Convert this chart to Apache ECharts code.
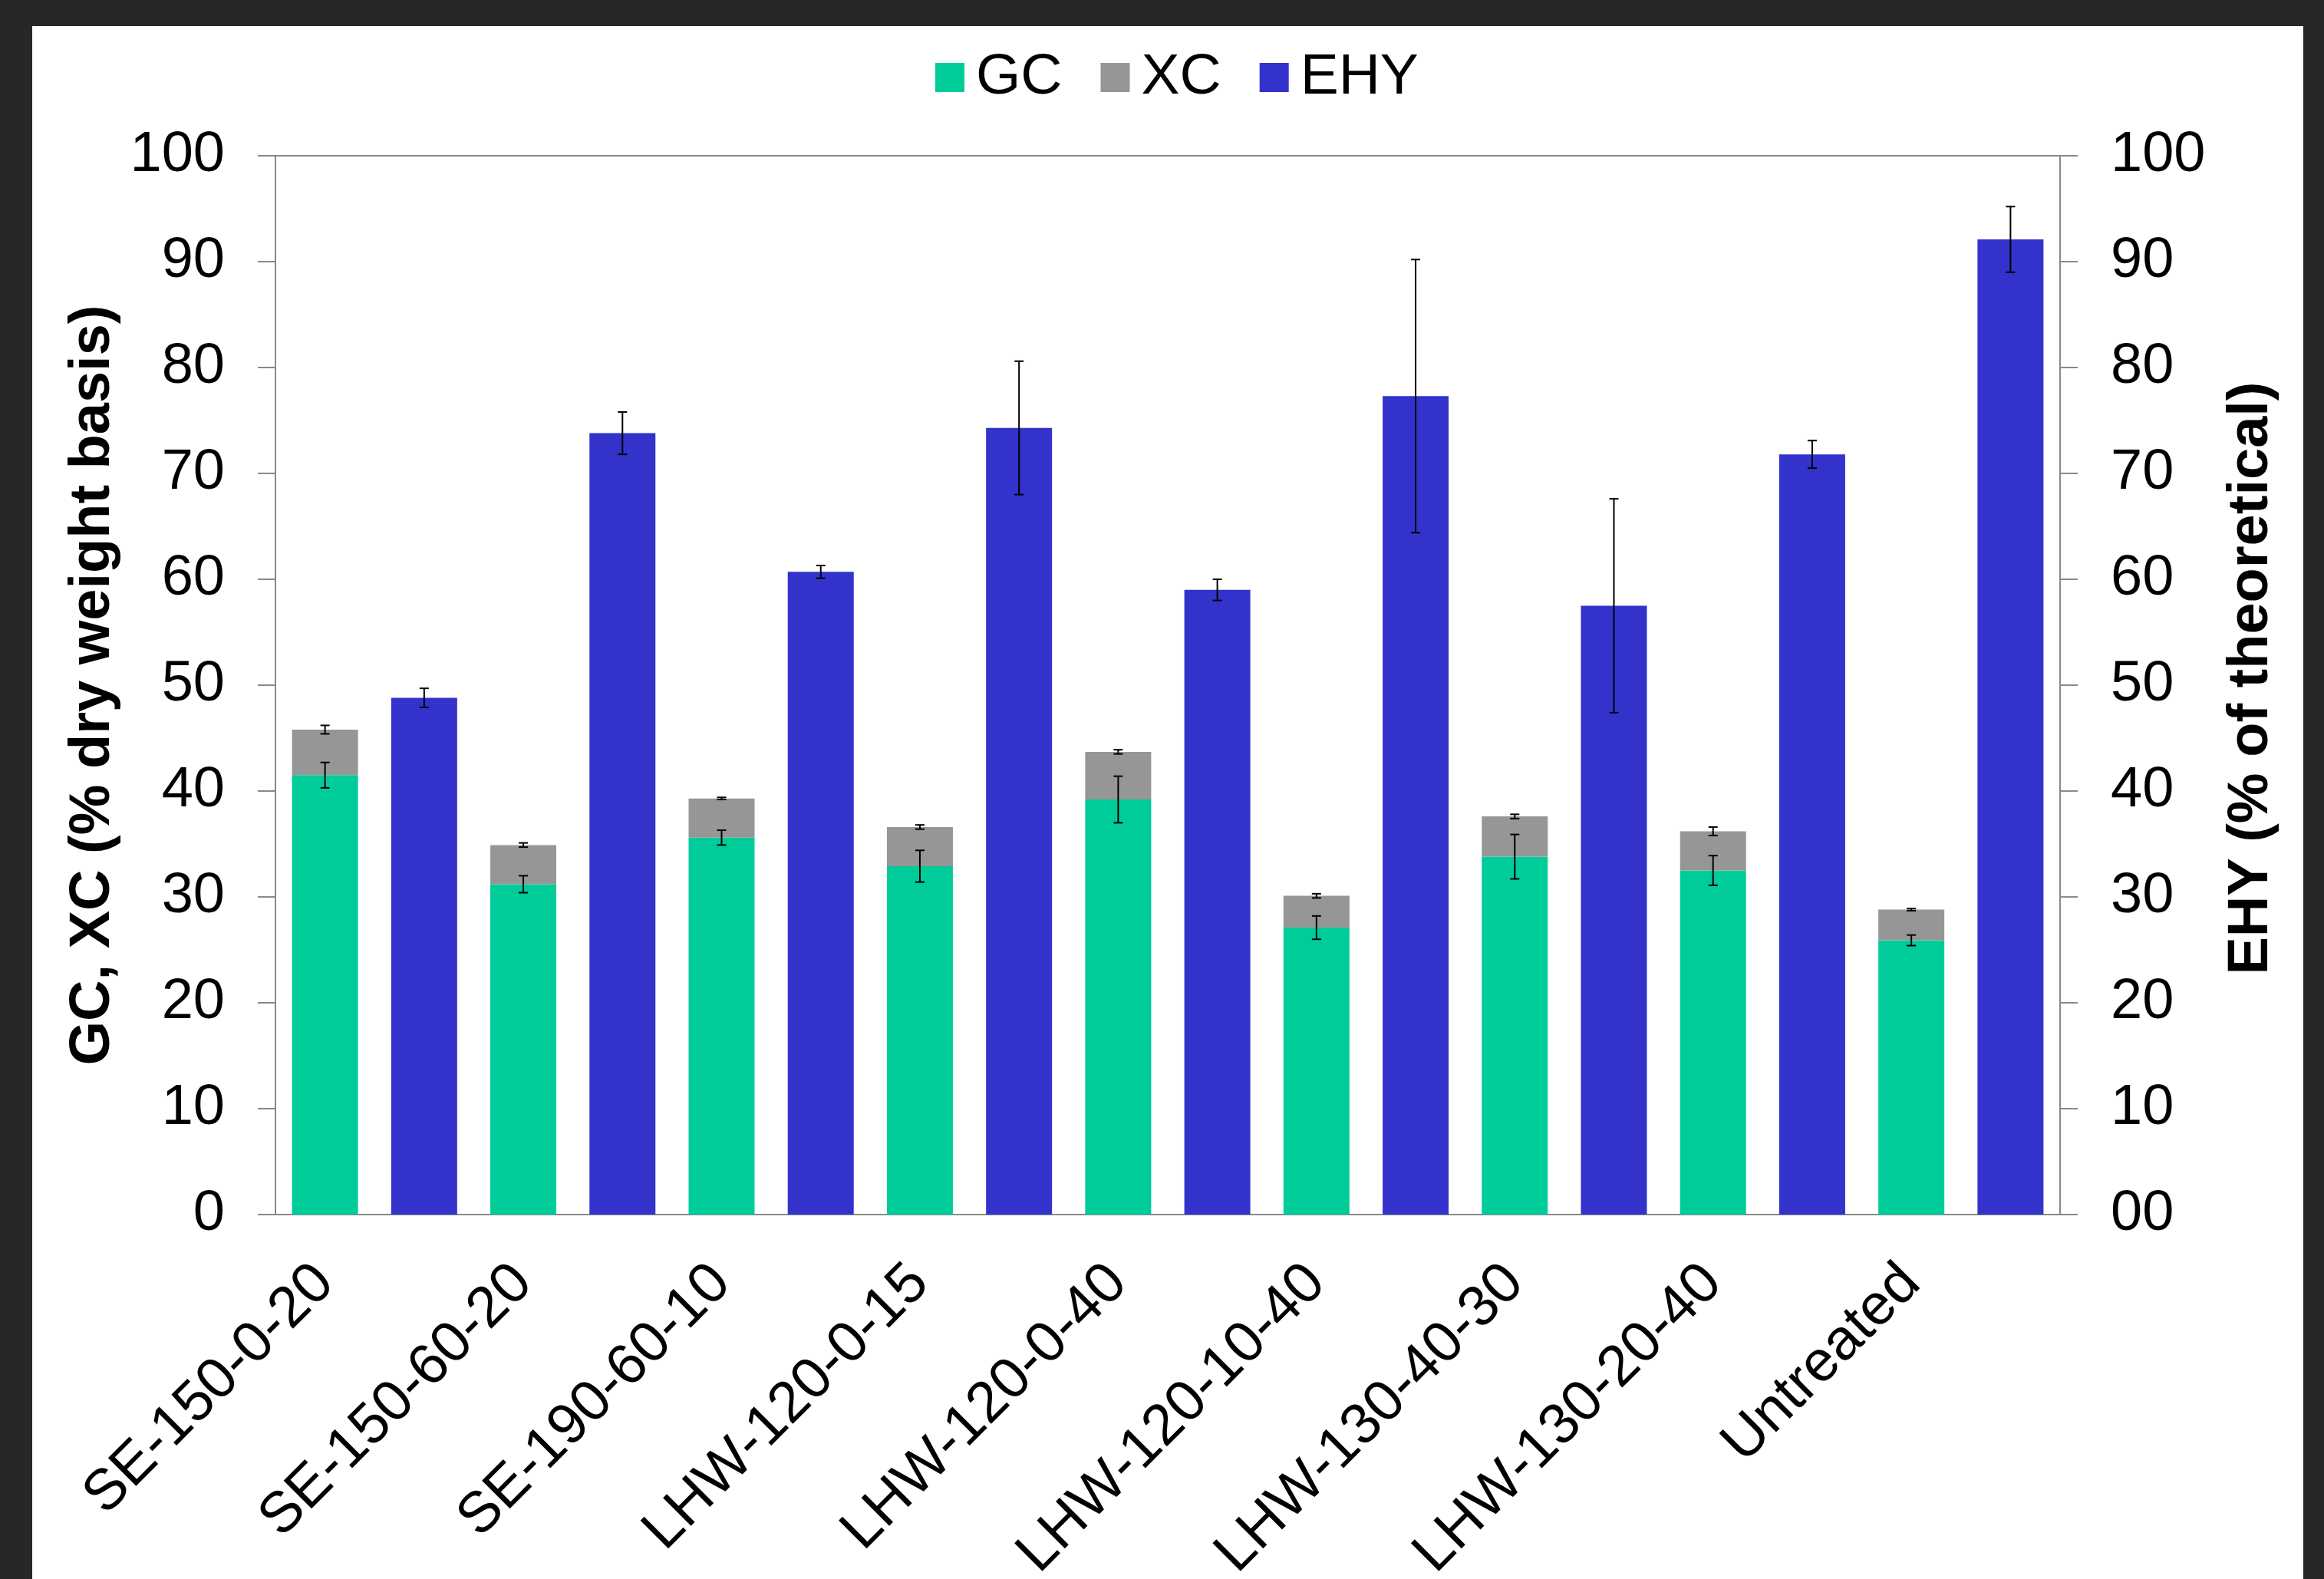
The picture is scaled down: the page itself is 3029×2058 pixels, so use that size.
<!DOCTYPE html>
<html>
<head>
<meta charset="utf-8">
<script src="https://cdn.jsdelivr.net/npm/echarts@6/dist/echarts.min.js"></script>
<style>
  html, body { margin: 0; padding: 0; background: #272727; }
  #paper { position: absolute; left: 42px; top: 34px; width: 2960px; height: 2024px; background: #fff; }
  #chart { position: absolute; left: 0; top: 0; width: 3029px; height: 2058px; }
</style>
</head>
<body>
<div id="paper"></div>
<div id="chart"></div>
<script>
// pretreatment conditions
var categories = ['SE-150-0-20', 'SE-150-60-20', 'SE-190-60-10', 'LHW-120-0-15', 'LHW-120-0-40',
                  'LHW-120-10-40', 'LHW-130-40-30', 'LHW-130-20-40', 'Untreated'];
var gc     = [41.5, 31.2, 35.6, 32.9, 39.2, 27.1, 33.8, 32.5, 25.9];   // GC
var xc     = [4.3, 3.7, 3.7, 3.7, 4.5, 3.0, 3.8, 3.7, 2.9];            // XC
var ehy    = [48.8, 73.8, 60.7, 74.3, 59.0, 77.3, 57.5, 71.8, 92.1];   // EHY
var gcErr  = [1.2, 0.8, 0.7, 1.5, 2.2, 1.1, 2.1, 1.4, 0.5];
var xcErr  = [0.4, 0.2, 0.1, 0.2, 0.2, 0.2, 0.2, 0.4, 0.1];
var ehyErr = [0.9, 2.0, 0.6, 6.3, 1.0, 12.9, 10.1, 1.3, 3.1];
var leftTicks  = ['0', '10', '20', '30', '40', '50', '60', '70', '80', '90', '100'];
var rightTicks = ['00', '10', '20', '30', '40', '50', '60', '70', '80', '90', '100'];

var font = '"Liberation Sans", Arial, sans-serif';
var axisGray = '#898989';

// each condition takes two slots: stacked GC/XC then EHY
var slots = [], gcData = [], xcData = [], ehyData = [];
var gcBars = [], xcBars = [], ehyBars = [];
for (var i = 0; i < categories.length; i++) {
  slots.push(categories[i], '');
  gcData.push(gc[i], '-');
  xcData.push(xc[i], '-');
  ehyData.push('-', ehy[i]);
  gcBars.push([2 * i, gc[i] - gcErr[i], gc[i] + gcErr[i]]);
  xcBars.push([2 * i, gc[i] + xc[i] - xcErr[i], gc[i] + xc[i] + xcErr[i]]);
  ehyBars.push([2 * i + 1, ehy[i] - ehyErr[i], ehy[i] + ehyErr[i]]);
}

function errorBar(params, api) {
  var x = api.value(0);
  var hi = api.coord([x, api.value(2)]);
  var lo = api.coord([x, api.value(1)]);
  var w = 6;
  var style = { stroke: '#000', lineWidth: 2 };
  return {
    type: 'group',
    children: [
      { type: 'line', shape: { x1: hi[0], y1: hi[1], x2: lo[0], y2: lo[1] }, style: style },
      { type: 'line', shape: { x1: hi[0] - w, y1: hi[1], x2: hi[0] + w, y2: hi[1] }, style: style },
      { type: 'line', shape: { x1: lo[0] - w, y1: lo[1], x2: lo[0] + w, y2: lo[1] }, style: style }
    ]
  };
}

function valueAxis(ticks, pos, name, gap, pad) {
  return {
    type: 'value',
    position: pos,
    min: 0, max: 100, interval: 10,
    name: name,
    nameLocation: 'middle',
    nameRotate: 90,
    nameGap: gap,
    nameTextStyle: { fontFamily: font, fontSize: 74, fontWeight: 'bold', color: '#000', padding: pad },
    axisLine: { show: true, lineStyle: { color: axisGray, width: 2 } },
    axisTick: { show: true, length: 23, lineStyle: { color: axisGray, width: 2 } },
    splitLine: { show: false },
    axisLabel: {
      fontFamily: font, fontSize: 74, color: '#000', margin: 66,
      formatter: function (v) { return ticks[Math.round(v / 10)]; }
    }
  };
}

var chart = echarts.init(document.getElementById('chart'));
chart.setOption({
  animation: false,
  backgroundColor: 'transparent',
  grid: {
    left: 359, right: 344, top: 203, bottom: 475,
    outerBoundsMode: 'none',
    show: true, borderColor: axisGray, borderWidth: 2
  },
  legend: {
    left: 1214, top: 58,
    itemWidth: 38, itemHeight: 38, itemGap: 50,
    icon: 'rect',
    data: ['GC', 'XC', 'EHY'],
    textStyle: { fontFamily: font, fontSize: 75, color: '#000', lineHeight: 76, padding: [0, 0, 0, 10] }
  },
  xAxis: {
    type: 'category',
    data: slots,
    axisLine: { lineStyle: { color: axisGray, width: 2 } },
    axisTick: { length: 22, interval: 0, lineStyle: { color: axisGray, width: 2 } },
    axisLabel: { interval: 0, rotate: 45, margin: 78, fontFamily: font, fontSize: 75, color: '#000' }
  },
  yAxis: [
    valueAxis(leftTicks, 'left', 'GC, XC (% dry weight basis)', 197, 0),
    valueAxis(rightTicks, 'right', 'EHY (% of theoretical)', 213, [0, 0, 0, 18])
  ],
  series: [
    { name: 'GC', type: 'bar', stack: 'gx', data: gcData, barWidth: 86, barGap: '-100%',
      itemStyle: { color: '#00CC99' } },
    { name: 'XC', type: 'bar', stack: 'gx', data: xcData, barWidth: 86, barGap: '-100%',
      itemStyle: { color: '#969696' } },
    { name: 'EHY', type: 'bar', yAxisIndex: 1, data: ehyData, barWidth: 86, barGap: '-100%',
      itemStyle: { color: '#3333CC' } },
    { type: 'custom', renderItem: errorBar, data: gcBars, z: 10, silent: true },
    { type: 'custom', renderItem: errorBar, data: xcBars, z: 10, silent: true },
    { type: 'custom', renderItem: errorBar, data: ehyBars, yAxisIndex: 1, z: 10, silent: true }
  ]
});
</script>
</body>
</html>
